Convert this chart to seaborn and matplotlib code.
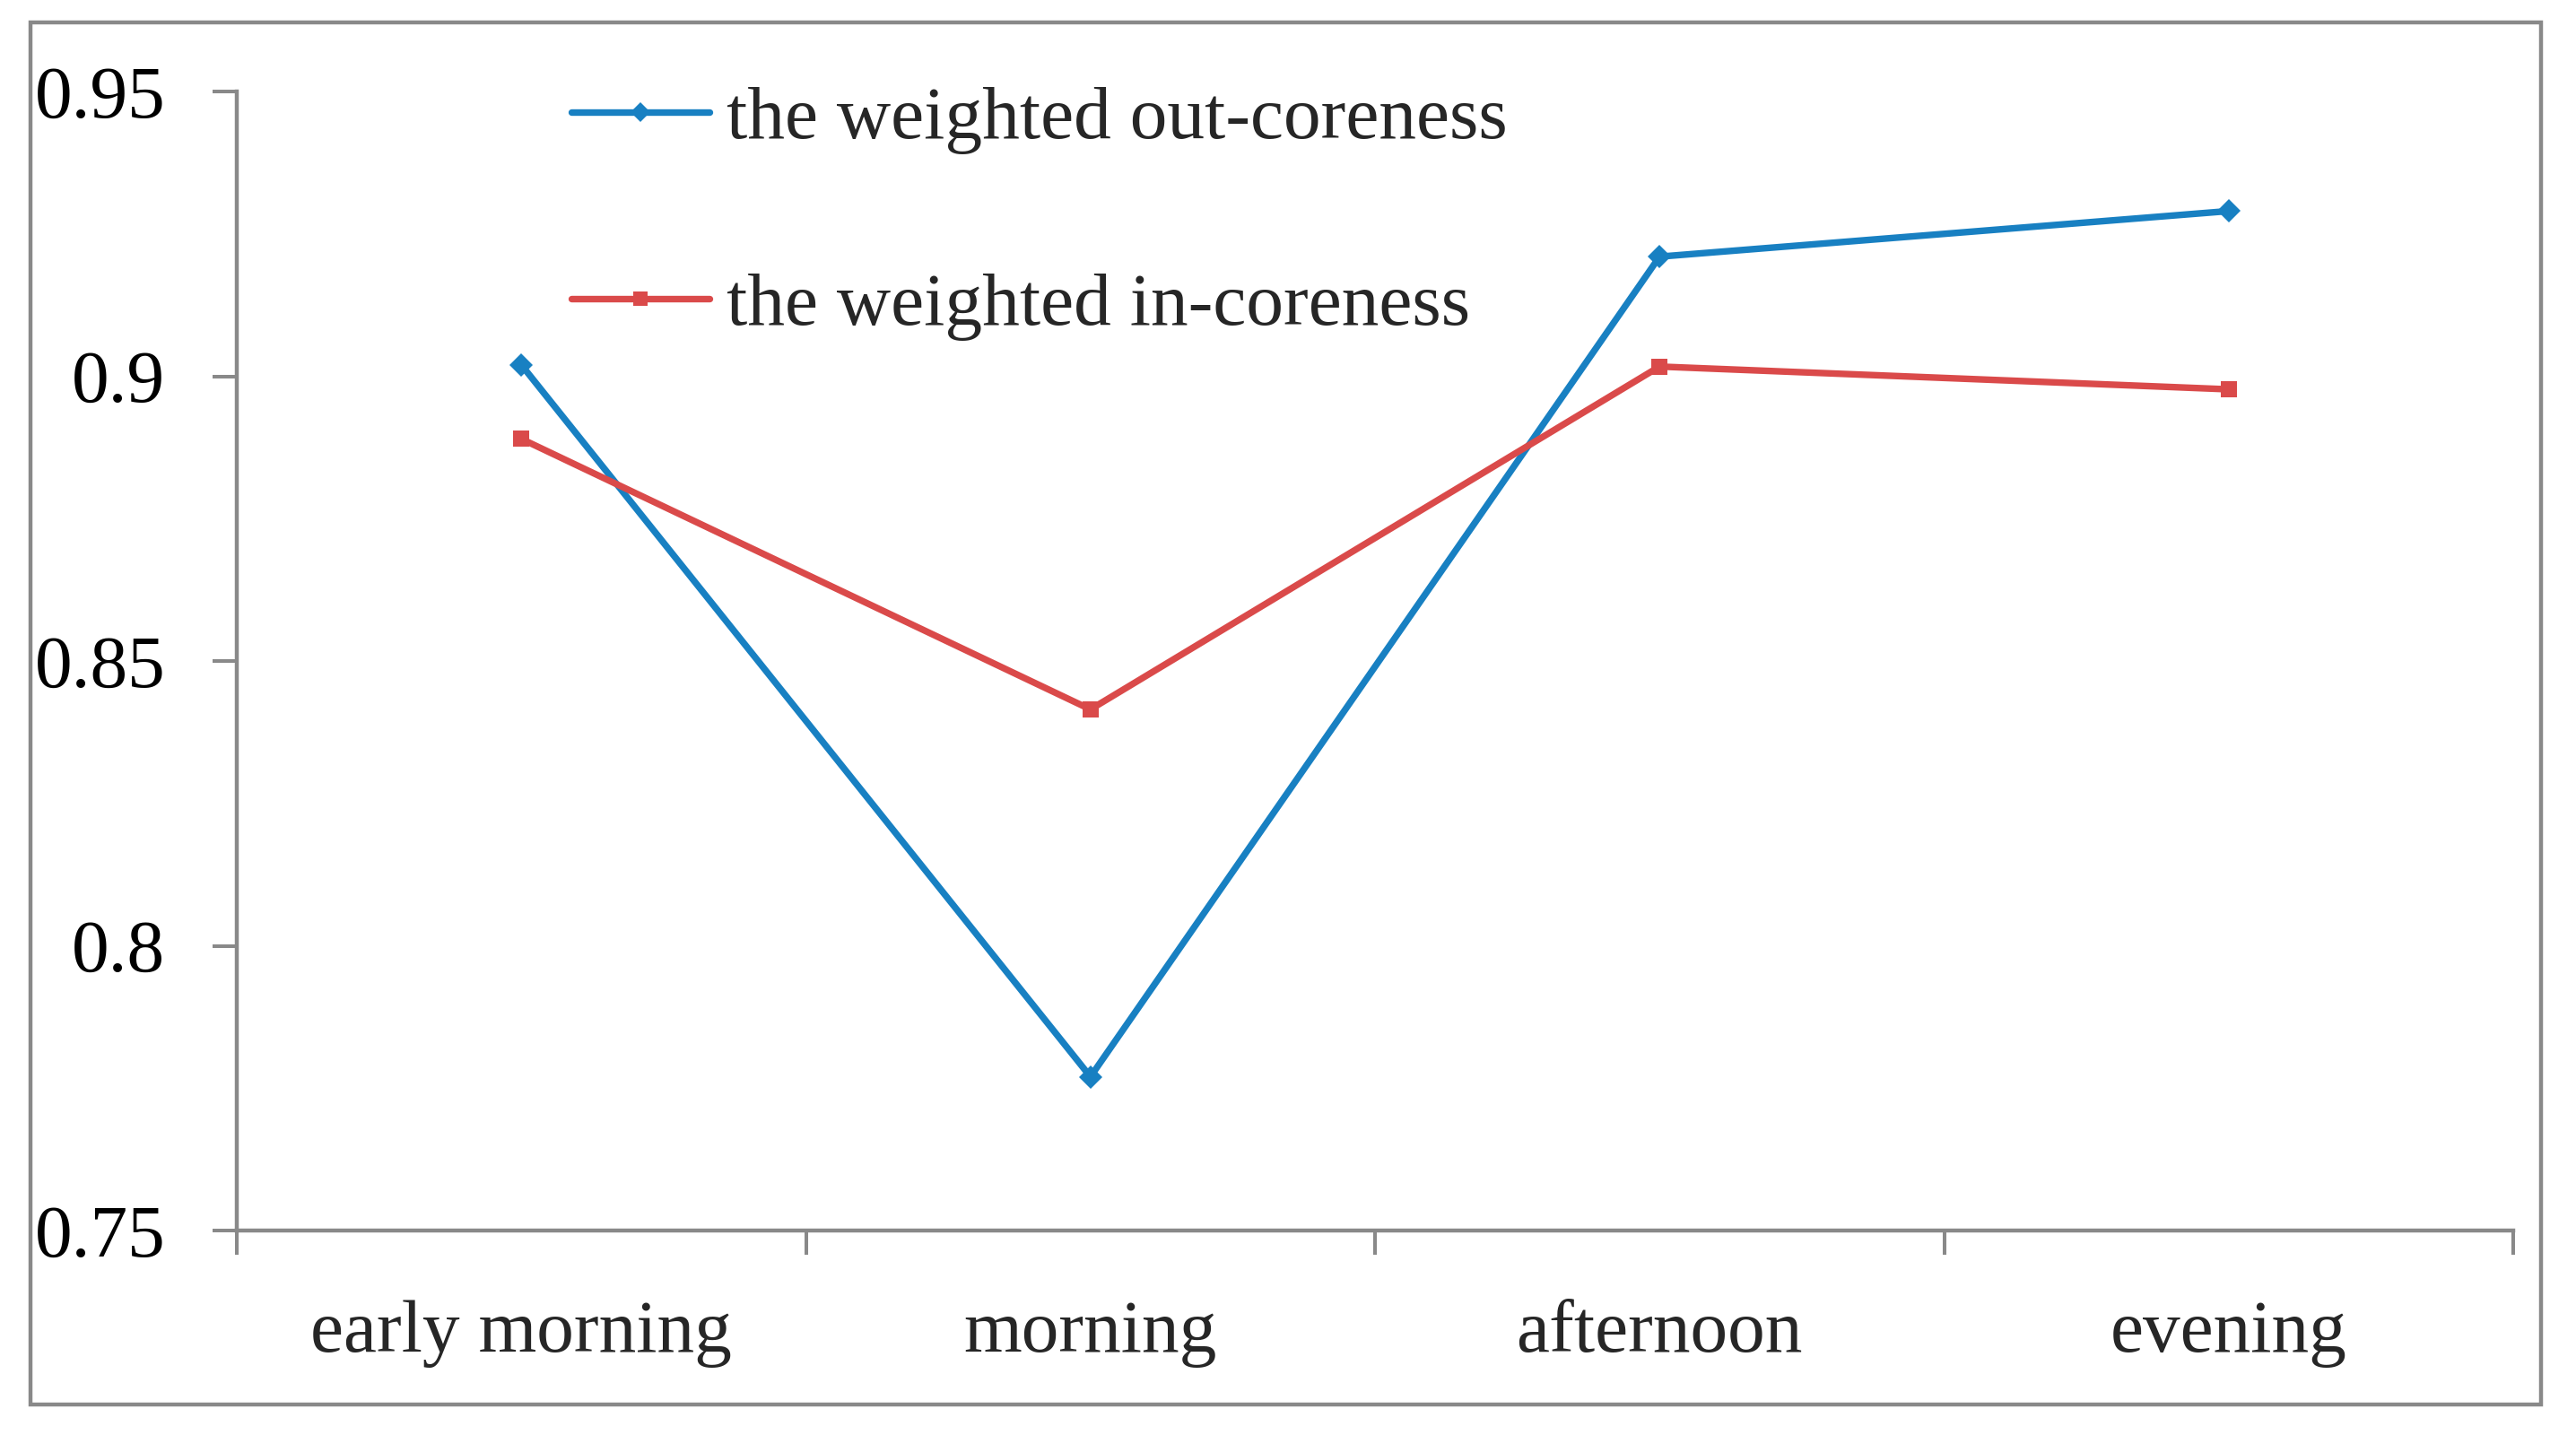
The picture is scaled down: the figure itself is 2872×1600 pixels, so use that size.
import pandas as pd
import matplotlib.pyplot as plt
import seaborn as sns
from matplotlib.patches import Rectangle

periods = ['early morning', 'morning', 'afternoon', 'evening']
out_coreness = [0.902, 0.777, 0.921, 0.929]
in_coreness = [0.889, 0.8415, 0.9017, 0.8977]
y_ticks = [0.75, 0.8, 0.85, 0.9, 0.95]
y_tick_labels = ['0.75', '0.8', '0.85', '0.9', '0.95']

sns.set_style('white')
plt.rcParams['font.family'] = ['Liberation Serif', 'DejaVu Serif']

grey = '#898989'
blue = '#1880c2'
red = '#da4a4a'
fs = 60

df = pd.DataFrame({
    'period': periods * 2,
    'value': out_coreness + in_coreness,
    'series': ['the weighted out-coreness'] * 4 + ['the weighted in-coreness'] * 4,
})

fig = plt.figure(figsize=(28.72, 16), dpi=100)
ax = fig.add_axes([264 / 2872, 1 - 1372 / 1600, (2802 - 264) / 2872, (1372 - 102) / 1600])

sns.lineplot(data=df, x='period', y='value', hue='series', style='series',
             palette=[blue, red], markers=['D', 's'], dashes=False,
             linewidth=5.3, markersize=13, markeredgewidth=0, ax=ax, sort=False)

ax.set_ylim(0.75, 0.95)
ax.set_xlim(-0.5, 3.5)
ax.set_yticks(y_ticks)
ax.set_yticklabels(y_tick_labels)
ax.set_xticks([-0.5, 0.5, 1.5, 2.5, 3.5])
ax.set_xticklabels([])
ax.set_xticks(range(len(periods)), minor=True)
ax.set_xticklabels(periods, minor=True)
ax.set_xlabel('')
ax.set_ylabel('')

for s in ['top', 'right']:
    ax.spines[s].set_visible(False)
for s in ['left', 'bottom']:
    ax.spines[s].set_color(grey)
    ax.spines[s].set_linewidth(3.2)

ax.tick_params(axis='both', which='major', direction='out', length=19.5, width=2.9,
               color=grey, labelsize=fs, labelcolor='black')
ax.tick_params(axis='y', which='major', left=True, pad=38)
ax.tick_params(axis='x', which='major', bottom=True)
ax.tick_params(axis='x', which='minor', length=0, labelsize=fs, pad=56)

handles, labels = ax.get_legend_handles_labels()
leg = ax.legend(handles, labels, loc='upper left', frameon=False, fontsize=fs,
                bbox_to_anchor=(637 / 2872, 1 - 96 / 1600), bbox_transform=fig.transFigure,
                borderpad=0, borderaxespad=0, handlelength=1.85, handletextpad=0.23,
                labelspacing=1.58)
for h in leg.legend_handles:
    h.set_markersize(11)

fig.add_artist(Rectangle((34 / 2872, 1 - 1566 / 1600), (2833 - 34) / 2872, (1566 - 25) / 1600,
                         transform=fig.transFigure, fill=False, edgecolor=grey, linewidth=3.2))

fig.savefig('out.png', dpi=100)
